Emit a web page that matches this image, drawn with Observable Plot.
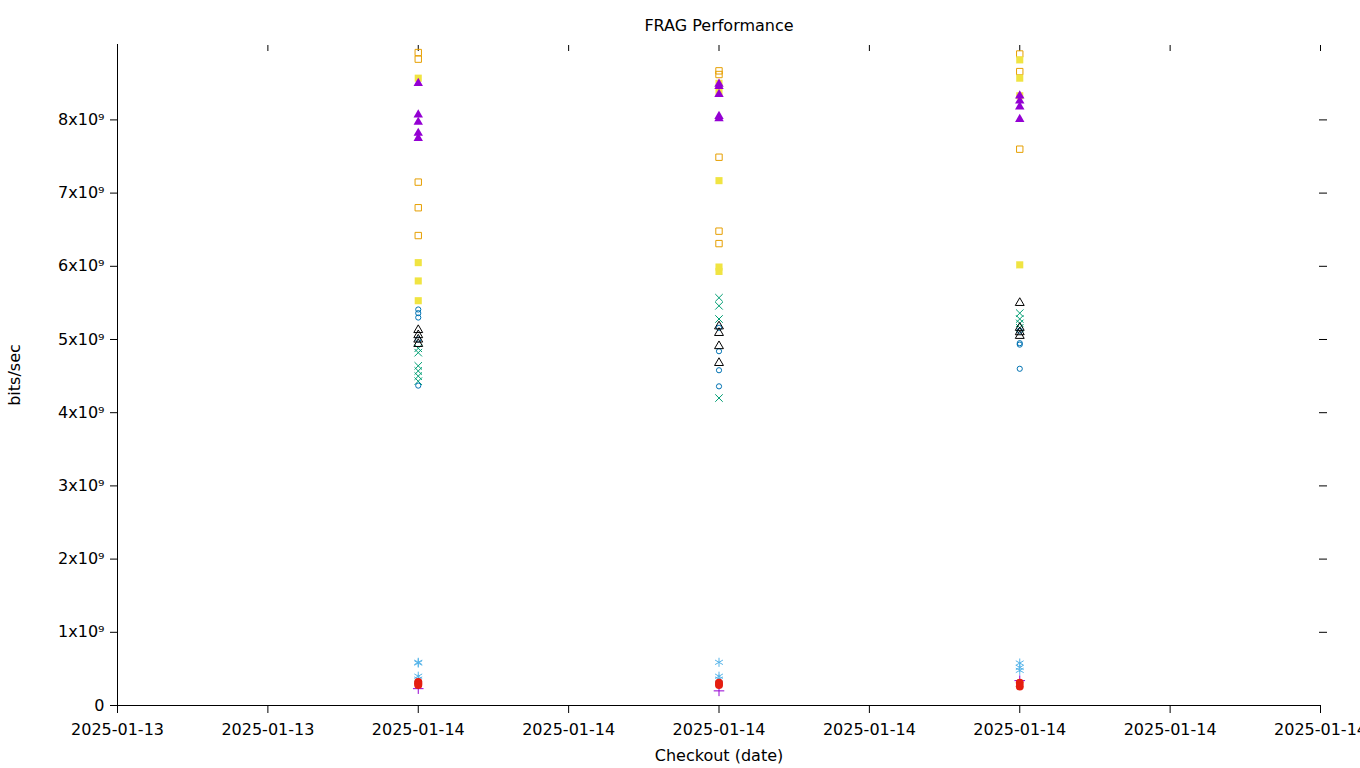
<!DOCTYPE html>
<html><head><meta charset="utf-8">
<script src="https://cdn.jsdelivr.net/npm/d3@7"></script>
<script src="https://cdn.jsdelivr.net/npm/@observablehq/plot@0.6"></script>
<style>
body{margin:0;background:#fff;}
svg{font-family:"DejaVu Sans",sans-serif;}
</style>
</head><body><div id="chart"></div>
<script>
// x tick labels (checkout dates, shown at day precision)
const xTickLabels = ["2025-01-13","2025-01-13","2025-01-14","2025-01-14","2025-01-14","2025-01-14","2025-01-14","2025-01-14","2025-01-14"];
const xTickPositions = [0,1,2,3,4,5,6,7,8];
const checkoutPositions = [2, 4, 6];
const yTickValues = [0,1,2,3,4,5,6,7,8].map(d => d * 1e9);

// values in units of 1e9 bits/sec, one list per checkout
const purplePlus     = [[0.23], [0.20], [0.34]];
const greenCross     = [[4.88, 4.82, 4.64, 4.57, 4.50, 4.43], [5.57, 5.46, 5.28, 4.20], [5.36, 5.28, 5.22, 5.16]];
const skyAsterisk    = [[0.59, 0.58, 0.40, 0.36], [0.59, 0.40, 0.36], [0.58, 0.52, 0.48]];
const orangeSquare   = [[8.92, 8.83, 7.15, 6.80, 6.42], [8.67, 8.62, 7.49, 6.48, 6.31], [8.90, 8.66, 7.60]];
const yellowSquare   = [[8.57, 6.05, 5.80, 5.53], [8.50, 8.38, 7.17, 5.99, 5.93], [8.82, 8.57, 8.33, 6.02]];
const blueCircle     = [[5.41, 5.36, 5.30, 5.00, 4.37], [5.16, 4.84, 4.58, 4.36], [5.12, 4.95, 4.93, 4.60]];
const redCircle      = [[0.32, 0.30, 0.28], [0.31, 0.28], [0.31, 0.26]];
const blackTriangle  = [[5.13, 5.06, 5.00, 4.94], [5.18, 5.09, 4.91, 4.68], [5.50, 5.16, 5.10, 5.05]];
const purpleTriangle = [[8.50, 8.07, 7.97, 7.82, 7.75], [8.49, 8.46, 8.35, 8.05, 8.02], [8.33, 8.26, 8.18, 8.01]];

const seriesDefs = [
  {values: purplePlus,     symbol: "plus",     color: "#9400d3", filled: false, r: 3.5},
  {values: greenCross,     symbol: "times",    color: "#009e73", filled: false, r: 3.5},
  {values: skyAsterisk,    symbol: "asterisk", color: "#56b4e9", filled: false, r: 4.3},
  {values: orangeSquare,   symbol: "square",   color: "#e69f00", filled: false, r: 3.6},
  {values: yellowSquare,   symbol: "square",   color: "#f0e442", filled: true,  r: 4},
  {values: blueCircle,     symbol: "circle",   color: "#0072b2", filled: false, r: 2.6},
  {values: redCircle,      symbol: "circle",   color: "#e51e10", filled: true,  r: 4},
  {values: blackTriangle,  symbol: "triangle", color: "#000000", filled: false, r: 3.3},
  {values: purpleTriangle, symbol: "triangle", color: "#9400d3", filled: true,  r: 3.5}
];

const dotMarks = seriesDefs.map(s => {
  const rows = s.values.flatMap((vals, i) => vals.map(v => ({x: checkoutPositions[i], y: v * 1e9})));
  return Plot.dot(rows, {
    x: "x", y: "y", symbol: () => s.symbol, r: s.r,
    fill: s.filled ? s.color : "none",
    stroke: s.filled ? "none" : s.color,
    strokeWidth: 1
  });
});

const chart = Plot.plot({
  width: 1360,
  height: 768,
  marginLeft: 117,
  marginRight: 40,
  marginTop: 44,
  marginBottom: 63,
  style: {fontSize: "16px", fontFamily: "DejaVu Sans", background: "#fff"},
  x: {domain: [0, 8]},
  y: {domain: [0, 9.03e9]},
  marks: [
    Plot.text(["FRAG Performance"], {frameAnchor: "top", dy: -25, fontSize: 16}),
    Plot.axisX(xTickPositions, {anchor: "bottom", tickSize: 8, tickPadding: 10,
      tickFormat: i => xTickLabels[i], label: "Checkout (date)", labelAnchor: "center", labelOffset: 55, labelArrow: "none"}),
    Plot.axisX(xTickPositions.slice(1), {anchor: "top", tickSize: 6, dy: 6, tickFormat: () => "", label: null}),
    Plot.axisY(yTickValues, {anchor: "left", tickSize: 7, tickPadding: 6,
      tickFormat: d => d === 0 ? "0" : `${d / 1e9}x10\u2079`, label: "bits/sec", labelAnchor: "center", labelOffset: 109, labelArrow: "none"}),
    Plot.axisY(yTickValues.slice(1), {anchor: "right", tickSize: 8, dx: -2, tickFormat: () => "", label: null}),
    Plot.ruleX([0]),
    Plot.ruleY([0]),
    ...dotMarks
  ]
});
document.getElementById("chart").append(chart);
</script>
</body></html>
